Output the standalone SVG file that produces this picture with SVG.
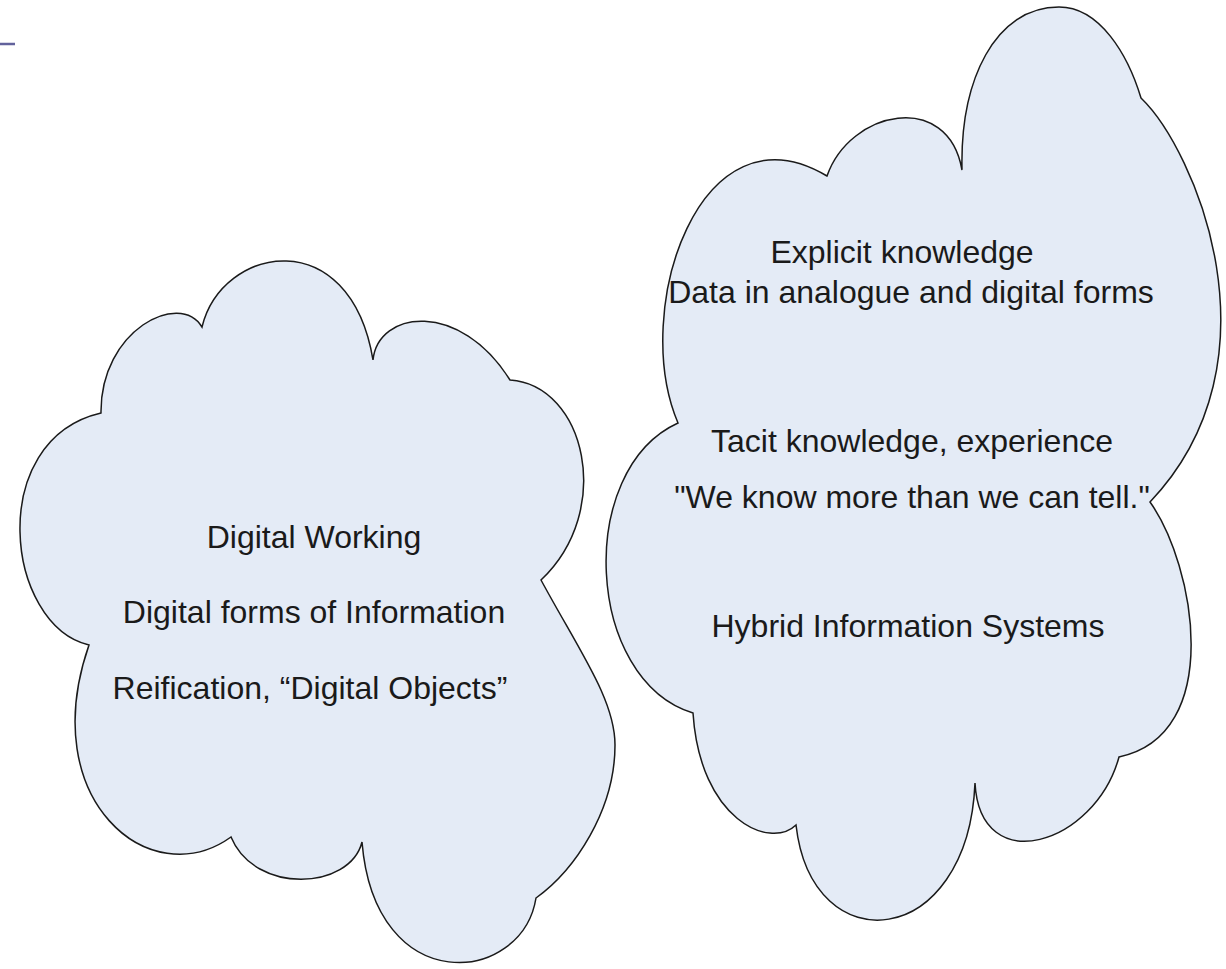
<svg xmlns="http://www.w3.org/2000/svg" width="1226" height="969" viewBox="0 0 1226 969">
<style>
.cloud{fill:#E4EBF6;stroke:#1a1a1a;stroke-width:1.5;stroke-linejoin:miter}
.t{font-family:"Liberation Sans",Arial,sans-serif;font-size:32px;fill:#1a1a1a;text-anchor:middle}
</style>
<rect width="1226" height="969" fill="#ffffff"/>
<line x1="0" y1="44" x2="15" y2="44" stroke="#62629c" stroke-width="2.5"/>
<g id="cloud-left">
<path class="cloud" d="M202,327 C222,245 350,222 373,360 C378,310 460,300 510,380 C585,385 615,510 541,580 C580,652 615,700 615,745 C615,810 575,870 536,898 C522,985 375,1000 362,842 C350,890 255,895 231,837 C150,895 35,800 89,645 C5,625 -15,440 101,413 C100,330 180,290 202,327 Z"/>
<text class="t" x="314" y="548">Digital Working</text>
<text class="t" x="314" y="623">Digital forms of Information</text>
<text class="t" x="310" y="699">Reification, “Digital Objects”</text>
</g>
<g id="cloud-right">
<path class="cloud" d="M962,170 C960,80 995,7 1059,7 C1100,7 1128,55 1141,98 C1195,150 1285,360 1150,502 C1195,565 1225,735 1119,757 C1095,845 980,880 975,783 C968,950 812,965 796,825 C770,850 700,820 693,713 C585,680 575,470 678,423 C630,310 700,100 827,176 C850,110 948,90 962,170 Z"/>
<text class="t" x="902" y="263">Explicit knowledge</text>
<text class="t" x="911" y="303">Data in analogue and digital forms</text>
<text class="t" x="912" y="452">Tacit knowledge, experience</text>
<text class="t" x="912" y="508">"We know more than we can tell."</text>
<text class="t" x="908" y="637">Hybrid Information Systems</text>
</g>
<g id="connectors"></g>
</svg>
